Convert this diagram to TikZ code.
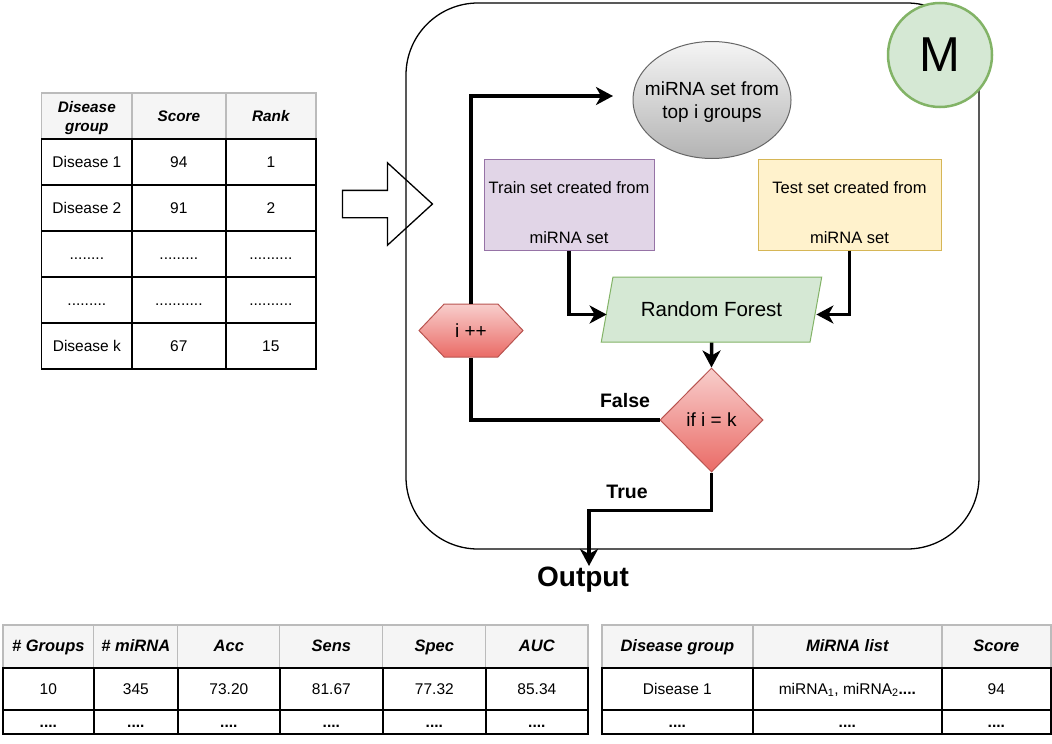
\documentclass[tikz,border=0pt]{standalone}
\usepackage{fontspec}
\setmainfont{Liberation Sans}
\usetikzlibrary{shapes.geometric,shapes.symbols,shapes.arrows,matrix,arrows.meta}

\definecolor{hdrfill}{HTML}{F5F5F5}
\definecolor{hdrline}{HTML}{BBBBBB}
\definecolor{greenfill}{HTML}{D5E8D4}
\definecolor{greenline}{HTML}{82B366}
\definecolor{purplefill}{HTML}{E1D5E7}
\definecolor{purpleline}{HTML}{9673A6}
\definecolor{yellowfill}{HTML}{FFF2CC}
\definecolor{yellowline}{HTML}{D6B656}
\definecolor{redtop}{HTML}{F8CECC}
\definecolor{redbottom}{HTML}{EA6B66}
\definecolor{redline}{HTML}{B85450}
\definecolor{graytop}{HTML}{F5F5F5}
\definecolor{graybottom}{HTML}{B3B3B3}
\definecolor{grayline}{HTML}{666666}

\begin{document}
\begin{tikzpicture}[x=1pt, y=-1pt,
  cell/.style={draw, line width=1.3pt, inner sep=1pt, outer sep=0pt, anchor=center,
    text height=13.5pt, text depth=2.5pt},
  hdr/.style={fill=hdrfill, draw=hdrline},
  datatable/.style={matrix of nodes, column sep=-1.3pt, row sep=-1.3pt, inner sep=0pt,
    nodes={cell, font=\fontsize{15.5}{18}\selectfont}},
  setbox/.style={rectangle, line width=1pt, minimum width=170pt, minimum height=91pt,
    align=center, inner sep=2pt, font=\fontsize{16.5}{20}\selectfont},
  redfill/.style={draw=redline, top color=redtop, bottom color=redbottom, line width=1pt},
  flow/.style={line width=3.5pt},
  flowarrow/.style={flow, -{Stealth[length=17pt, width=18pt, inset=5pt]}},
  cond/.style={font=\fontsize{19.5}{22}\selectfont\bfseries}]

  \useasboundingbox (0,0) rectangle (1052,744);

  % ranking of the disease groups
  \matrix[datatable, anchor=north west,
    column 1/.style={nodes={minimum width=90pt}},
    column 2/.style={nodes={minimum width=94pt}},
    column 3/.style={nodes={minimum width=90pt}},
    nodes={minimum height=46pt},
    row 1/.style={nodes={hdr, font=\fontsize{15.3}{19}\selectfont\bfseries\itshape}}]
    (ranktab) at (41,92) {
    |[text width=72pt, align=center, text height=15pt, text depth=22pt]| Disease group & Score & Rank \\
    Disease 1 & 94 & 1 \\
    Disease 2 & 91 & 2 \\
    ........ & ......... & .......... \\
    ......... & ........... & .......... \\
    Disease k & 67 & 15 \\
  };

  \node[single arrow, draw, line width=1.3pt, minimum width=81pt, minimum height=90pt,
    single arrow head extend=27.5pt, single arrow tip angle=85, inner sep=13pt]
    (inarrow) at (380,204) {};

  % the model
  \node[draw, line width=1.3pt, rounded corners=72pt, minimum width=573pt,
    minimum height=546pt] (module) at (692.5,276) {};
  \node[circle, draw=greenline, fill=greenfill, line width=2.5pt, minimum size=104pt,
    font=\fontsize{49}{49}\selectfont] (mlabel) at (940,55) {M};

  \node[ellipse, draw=grayline, top color=graytop, bottom color=graybottom, line width=1pt,
    minimum width=158pt, minimum height=117pt,
    label={[name=mirnatext, align=center, font=\fontsize{19}{23}\selectfont, yshift=-2pt]center:miRNA set from\\top i groups}]
    (mirnaset) at (712,100) {};

  \node[setbox, draw=purpleline, fill=purplefill] (train) at (569,204.5)
    {\mbox{}\\[8pt]Train set created from\\[30pt]miRNA set};
  \node[setbox, draw=yellowline, fill=yellowfill, minimum width=183pt] (test) at (849.5,204.5)
    {\mbox{}\\[8pt]Test set created from\\[30pt]miRNA set};

  \node[trapezium, trapezium left angle=68, trapezium right angle=112, trapezium stretches=true,
    draw=greenline, fill=greenfill, line width=1pt, minimum width=221pt, minimum height=65pt,
    font=\fontsize{20.5}{24}\selectfont] (forest) at (711.5,309.5) {Random Forest};

  \node[diamond, aspect=1, redfill, minimum width=103pt, minimum height=104pt, inner sep=0pt,
    font=\fontsize{19}{22}\selectfont] (check) at (711.5,420) {if i = k};

  \node[signal, signal to=east and west, signal pointer angle=93, redfill,
    minimum width=104pt, minimum height=53pt, font=\fontsize{19}{22}\selectfont]
    (incr) at (471,330.5) {i ++};

  \coordinate (loopend) at (613,96);
  \node[font=\fontsize{28}{30}\selectfont\bfseries, inner sep=1pt, anchor=north]
    (output) at (583,566) {Output};

  \draw[flow] (check.west) -| (incr.south);
  \draw[flowarrow] (incr.north) |- (loopend);
  \draw[flowarrow] (train.south) |- ([yshift=-5pt]forest.west);
  \draw[flowarrow] (test.south) |- ([yshift=-5pt]forest.east);
  \draw[flowarrow] (forest.south) -- (check.north);
  \draw[flowarrow] (check.south) -- ++(0,38) -| ([xshift=6pt]output.north);

  \node[cond] (false) at (625,401) {False};
  \node[cond] (true) at (627,492) {True};

  % results
  \matrix[datatable, anchor=north west,
    column 1/.style={nodes={minimum width=91pt}},
    column 2/.style={nodes={minimum width=84pt}},
    column 3/.style={nodes={minimum width=102pt}},
    column 4/.style={nodes={minimum width=103pt}},
    column 5/.style={nodes={minimum width=103pt}},
    column 6/.style={nodes={minimum width=102pt}},
    row 1/.style={nodes={hdr, minimum height=43pt, font=\fontsize{16.5}{19}\selectfont\bfseries\itshape}},
    row 2/.style={nodes={minimum height=42pt}},
    row 3/.style={nodes={minimum height=24pt}}]
    (restab) at (2,624) {
    \# Groups & \# miRNA & Acc & Sens & Spec & AUC \\
    10 & 345 & 73.20 & 81.67 & 77.32 & 85.34 \\
    \textbf{....} & \textbf{....} & \textbf{....} & \textbf{....} & \textbf{....} & \textbf{....} \\
  };

  \matrix[datatable, anchor=north west,
    column 1/.style={nodes={minimum width=151pt}},
    column 2/.style={nodes={minimum width=189pt}},
    column 3/.style={nodes={minimum width=109pt}},
    row 1/.style={nodes={hdr, minimum height=43pt, font=\fontsize{16.5}{19}\selectfont\bfseries\itshape}},
    row 2/.style={nodes={minimum height=42pt}},
    row 3/.style={nodes={minimum height=24pt}}]
    (listtab) at (601,624) {
    Disease group & MiRNA list & Score \\
    Disease 1 & miRNA\textsubscript{1}, miRNA\textsubscript{2}\textbf{....} & 94 \\
    \textbf{....} & \textbf{....} & \textbf{....} \\
  };

\end{tikzpicture}
\end{document}
